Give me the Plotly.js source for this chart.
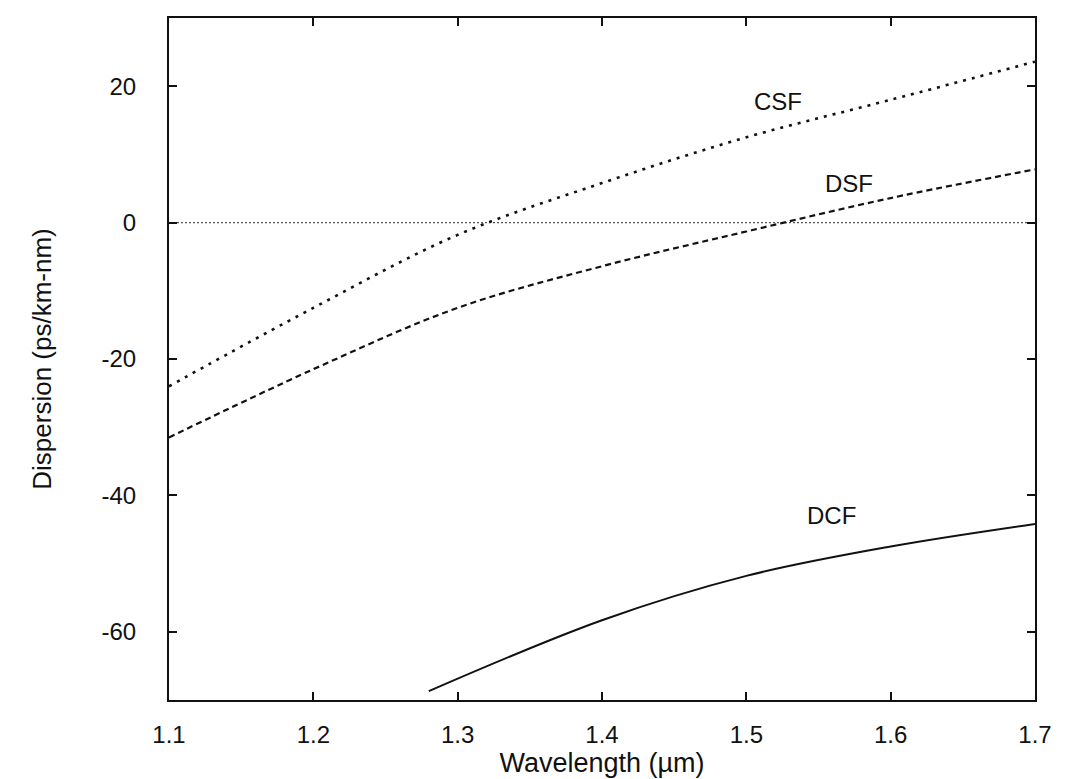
<!DOCTYPE html>
<html>
<head>
<meta charset="utf-8">
<script src="https://cdn.plot.ly/plotly-3.0.1.min.js"></script>
<style>html,body{margin:0;padding:0;background:#fff;}</style>
</head>
<body>
<div id="chart" style="width:1067px;height:779px;"></div>
<script>
// Wavelength grid (µm) read at 0.1 µm steps
const wavelength = [1.1, 1.2, 1.3, 1.4, 1.5, 1.6, 1.7];
// Conventional single-mode fibre
const csf = [-24, -12.5, -1.8, 5.8, 12.5, 18, 23.6];
// Dispersion-shifted fibre
const dsf = [-31.5, -21.5, -12.5, -6.4, -1.3, 3.6, 7.8];
// Dispersion-compensating fibre
const dcfWavelength = [1.28, 1.4, 1.5, 1.6, 1.7];
const dcf = [-68.7, -58.3, -51.8, -47.5, -44.2];
// Zero-dispersion reference line
const zeroX = [1.1, 1.7];
const zeroY = [0, 0];
// Tick labels
const xTickVals = [1.1, 1.2, 1.3, 1.4, 1.5, 1.6, 1.7];
const xTickText = ["1.1", "1.2", "1.3", "1.4", "1.5", "1.6", "1.7"];
const yTickVals = [-60, -40, -20, 0, 20];
const yTickText = ["-60", "-40", "-20", "0", "20"];
// Curve labels
const labelText = ["CSF", "DSF", "DCF"];
const labelX = [1.522, 1.571, 1.559];
const labelY = [17.8, 5.8, -43];

const font = "Liberation Sans, Arial, Helvetica, sans-serif";

const traces = [
  {x: zeroX, y: zeroY, mode: "lines", line: {color: "#555", width: 1.2, dash: "2px,2px"}, hoverinfo: "skip"},
  {x: wavelength, y: csf, mode: "lines", name: "CSF", line: {color: "#111", width: 2.6, dash: "3px,6px", shape: "spline"}},
  {x: wavelength, y: dsf, mode: "lines", name: "DSF", line: {color: "#111", width: 2.2, dash: "6px,4px", shape: "spline"}},
  {x: dcfWavelength, y: dcf, mode: "lines", name: "DCF", line: {color: "#111", width: 2, shape: "spline"}}
];

const annotations = labelText.map((t, i) => ({
  x: labelX[i], y: labelY[i], xref: "x", yref: "y", text: t, showarrow: false,
  font: {family: font, size: 24, color: "#111"}
}));

const layout = {
  width: 1067, height: 779,
  margin: {l: 169, r: 32, t: 18, b: 79},
  paper_bgcolor: "#fff", plot_bgcolor: "#fff",
  showlegend: false,
  font: {family: font, size: 24, color: "#111"},
  xaxis: {
    range: [1.1, 1.7], tickmode: "array", tickvals: xTickVals, ticktext: xTickText,
    ticks: "inside", ticklen: 8, tickwidth: 2, tickcolor: "#111",
    showline: true, linecolor: "#111", linewidth: 2, mirror: "ticks",
    showgrid: false, zeroline: false, automargin: false,
    tickfont: {family: font, size: 24, color: "#111"},
    ticklabelstandoff: 12,
    title: {text: "Wavelength (µm)", font: {family: font, size: 27, color: "#111"}, standoff: 1}
  },
  yaxis: {
    range: [-70, 30], tickmode: "array", tickvals: yTickVals, ticktext: yTickText,
    ticks: "inside", ticklen: 8, tickwidth: 2, tickcolor: "#111",
    showline: true, linecolor: "#111", linewidth: 2, mirror: "ticks",
    showgrid: false, zeroline: false, automargin: false,
    tickfont: {family: font, size: 24, color: "#111"},
    ticklabelstandoff: 26,
    title: {text: "Dispersion (ps/km-nm)", font: {family: font, size: 26, color: "#111"}, standoff: 42}
  },
  annotations: annotations
};

Plotly.newPlot("chart", traces, layout, {displayModeBar: false, staticPlot: true});
</script>
</body>
</html>
